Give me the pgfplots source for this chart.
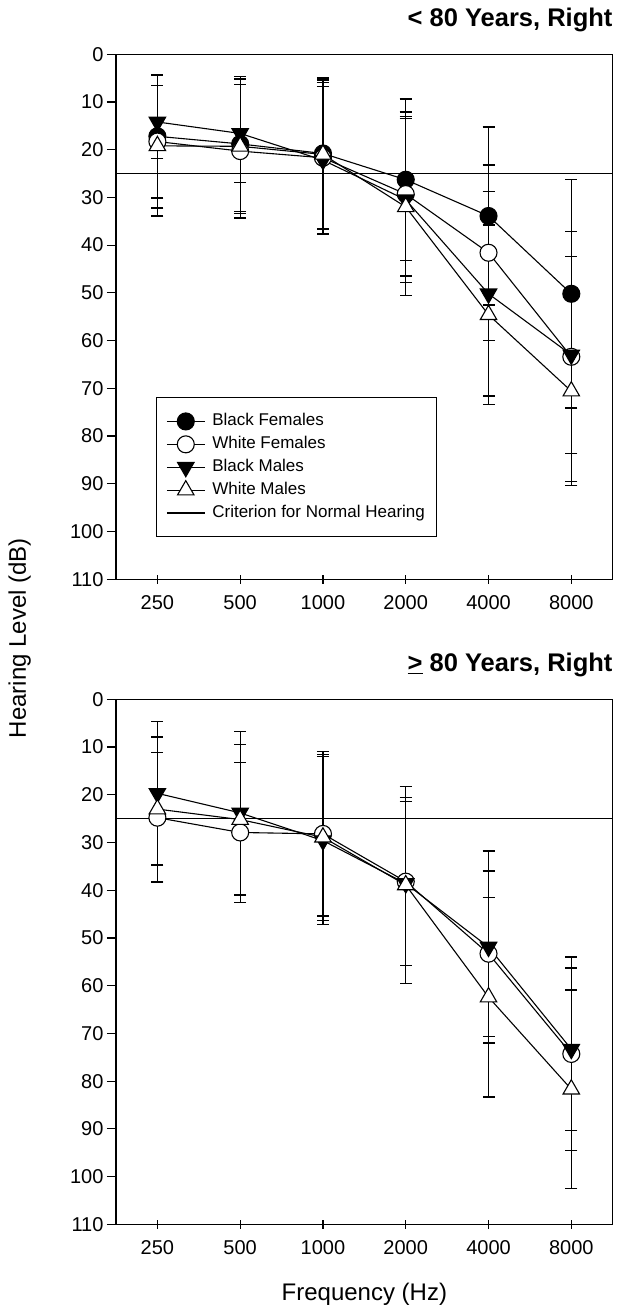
\documentclass[border=0pt]{standalone}
\usepackage{pgfplots}
\pgfplotsset{compat=1.18}
\usepackage{pgfplotstable}
\usepackage{fontspec}
\setmainfont{Liberation Sans}

% mean and SD, right ear, < 80 years
\pgfplotstableread{
x bf   bfe   wf   wfe   bm   bme   wm   wme
0 17.2 12.9  18.3 13.9  14.2 7.6   19.2 14.7
1 18.8 14.1  20.3 14.0  16.6 10.3  19.3 14.1
2 20.8 15.8  21.7 15.8  22.2 15.5  21.0 15.6
3 26.3 16.9  29.3 17.2  30.5 17.4  32.0 18.5
4 33.9 18.65 41.6 18.4  50.2 21.4  54.6 18.8
5 50.2 23.9  63.4 26.2  63.0 20.6  70.6 19.7
}\young

% >= 80 years (no black females)
\pgfplotstableread{
x wf   wfe   bm   bme   wm   wme
0 24.8 13.6  19.7 15.0  23.0 15.1
1 27.9 14.6  23.8 17.1  25.2 15.8
2 28.2 17.2  29.6 17.6  28.9 17.4
3 38.2 17.6  38.6 17.2  38.9 20.6
4 53.3 17.3  51.9 20.1  62.4 20.9
5 74.3 20.3  73.3 17.0  81.7 20.8
}\old

\pgfplotsset{
  hlaxis/.style={
    width=496.7pt, height=525pt, scale only axis,
    xmin=-0.5, xmax=5.5, ymin=0, ymax=110, y dir=reverse,
    xtick={0,...,5}, xticklabels={250,500,1000,2000,4000,8000},
    ytick={0,10,...,110},
    xtick pos=bottom, ytick pos=left,
    xtick align=center, ytick align=outside,
    major tick length=9pt,
    axis line style={line width=1.2pt},
    every tick/.style={black, line width=1.2pt},
    tick label style={font=\fontsize{20}{24}\selectfont},
    xticklabel style={yshift=-8pt},
    /pgf/number format/assume math mode=true,
    title style={at={(axis description cs:1,1)}, anchor=base east,
      yshift=21.5pt, inner sep=0pt, font=\fontsize{25.5}{30}\selectfont\bfseries},
    clip=false,
  },
  ser/.style={black, line width=1.1pt,
    error bars/y dir=both, error bars/y explicit,
    error bars/error bar style={line width=1.3pt},
    error bars/error mark options={rotate=90, black, line width=1.3pt, mark size=6pt}},
  bf/.style={ser, mark=*, mark size=8.5pt, mark options={solid, fill=black}},
  wf/.style={ser, mark=*, mark size=8.5pt, mark options={solid, fill=white}},
  bm/.style={ser, mark=triangle*, mark size=9.5pt, mark options={solid, rotate=180, fill=black}},
  wm/.style={ser, mark=triangle*, mark size=9.5pt, mark options={solid, fill=white}},
}

\begin{document}
\begin{tikzpicture}
\useasboundingbox (-116pt,54.2pt) rectangle (509pt,-1258.8pt);

\begin{axis}[hlaxis, at={(0pt,0pt)}, anchor=north west,
  title={< 80 Years, Right},
  legend image code/.code={\draw[mark repeat=2, mark phase=2, #1]
    plot coordinates {(0pt,0pt) (19pt,0pt) (38pt,0pt)};},
  legend style={at={(axis description cs:0.08,0.3467)}, anchor=north west,
    draw=black, line width=1pt, fill=white,
    font=\fontsize{17}{20}\selectfont,
    inner xsep=10pt, inner ysep=14pt, row sep=3.4pt, column sep=5pt,
    nodes={inner sep=2pt, text height=12pt, text depth=3.5pt}},
  legend cell align=left]
\addplot[bf] table[x=x, y=bf, y error=bfe] {\young};
\addplot[wf] table[x=x, y=wf, y error=wfe] {\young};
\addplot[bm] table[x=x, y=bm, y error=bme] {\young};
\addplot[wm] table[x=x, y=wm, y error=wme] {\young};
\addplot[black, line width=1.1pt] coordinates {(-0.5,25) (5.5,25)};
\legend{Black Females, White Females, Black Males, White Males, Criterion for Normal Hearing}
\end{axis}

\begin{axis}[hlaxis, at={(0pt,-645.1pt)}, anchor=north west,
  title={\underline{>} 80 Years, Right}]
\addplot[wf] table[x=x, y=wf, y error=wfe] {\old};
\addplot[bm] table[x=x, y=bm, y error=bme] {\old};
\addplot[wm] table[x=x, y=wm, y error=wme] {\old};
\addplot[black, line width=1.1pt] coordinates {(-0.5,25) (5.5,25)};
\end{axis}

\node[rotate=90, anchor=base, font=\fontsize{24}{28}\selectfont] at (-90pt,-583.8pt) {Hearing Level (dB)};
\node[anchor=base, font=\fontsize{24}{28}\selectfont] at (248.4pt,-1245.8pt) {Frequency (Hz)};
\end{tikzpicture}
\end{document}
